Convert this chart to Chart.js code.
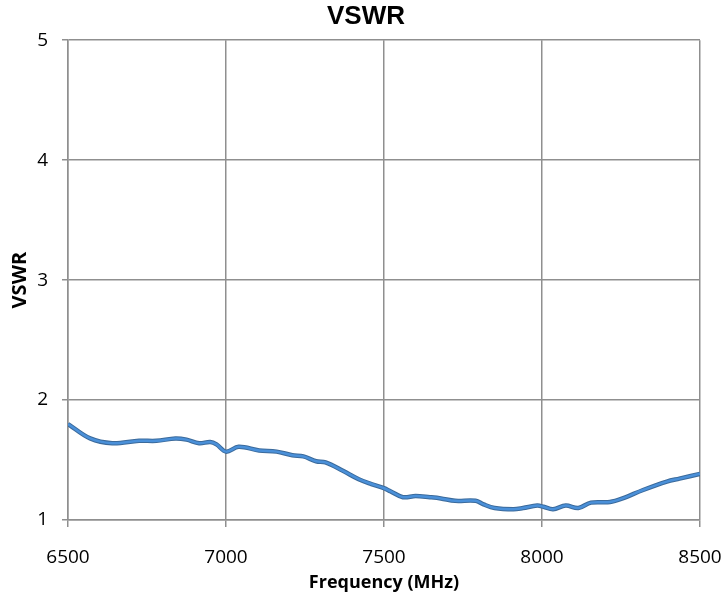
<!DOCTYPE html>
<html>
<head>
<meta charset="utf-8">
<script src="https://cdn.jsdelivr.net/npm/chart.js@4/dist/chart.umd.min.js"></script>
<style>
  html, body { margin: 0; padding: 0; background: #fff; }
  #wrap { width: 724px; height: 596px; }
</style>
</head>
<body>
<div id="wrap"><canvas id="chart" width="724" height="596"></canvas></div>
<script>
const freqMHz = [6500, 6570, 6640, 6725, 6780, 6840, 6875, 6915, 6950, 6970, 7000, 7040, 7105, 7160, 7210, 7245, 7285, 7315, 7370, 7420, 7460, 7500, 7520, 7560, 7600, 7645, 7680, 7725, 7790, 7815, 7850, 7910, 7940, 7985, 8005, 8035, 8075, 8115, 8155, 8215, 8255, 8320, 8395, 8435, 8500];
const vswr = [1.80, 1.68, 1.64, 1.66, 1.66, 1.68, 1.67, 1.64, 1.65, 1.63, 1.57, 1.61, 1.58, 1.57, 1.54, 1.53, 1.49, 1.48, 1.41, 1.34, 1.30, 1.265, 1.24, 1.19, 1.20, 1.19, 1.18, 1.16, 1.16, 1.13, 1.10, 1.09, 1.10, 1.12, 1.11, 1.09, 1.12, 1.10, 1.145, 1.15, 1.18, 1.25, 1.32, 1.345, 1.385];
const xTicks = [6500, 7000, 7500, 8000, 8500];
const yTicks = [1, 2, 3, 4, 5];

const points = freqMHz.map((f, i) => ({ x: f, y: vswr[i] }));
const gridGray = '#8f8f8f';
const tickFont = { family: 'Open Sans', size: 19 };

new Chart(document.getElementById('chart'), {
  type: 'line',
  data: {
    datasets: [
      // index 0 is drawn on top
      {
        data: points,
        borderColor: '#4a90d9',
        borderWidth: 2.5,
        pointRadius: 0,
        tension: 0.35,
        fill: false,
      },
      {
        data: points,
        borderColor: '#3b6a9b',
        borderWidth: 4.5,
        pointRadius: 0,
        tension: 0.35,
        fill: false,
      },
    ],
  },
  options: {
    responsive: false,
    animation: false,
    layout: { padding: { left: 8, right: 0, top: 0, bottom: 0 } },
    plugins: {
      legend: { display: false },
      tooltip: { enabled: false },
      title: {
        display: true,
        text: 'VSWR',
        color: '#000',
        font: { family: 'Liberation Sans', size: 26, weight: 'bold' },
        padding: { top: 1, bottom: 8 },
      },
    },
    scales: {
      x: {
        type: 'linear',
        min: 6500,
        max: 8500,
        afterBuildTicks: (s) => { s.ticks = xTicks.map((v) => ({ value: v })); },
        afterFit: (s) => { s.height = 76; s.paddingLeft = 0; s.paddingRight = 24; },
        ticks: { color: '#000', font: tickFont, padding: 19, maxRotation: 0, callback: (v) => String(v) },
        grid: { color: gridGray, lineWidth: 1.5, tickLength: 7 },
        border: { color: gridGray, width: 1.5 },
        title: {
          display: true,
          text: 'Frequency (MHz)',
          color: '#000',
          font: { family: 'Open Sans', size: 18, weight: 'bold' },
          padding: { top: 0, bottom: 2 },
        },
      },
      y: {
        min: 1,
        max: 5,
        afterBuildTicks: (s) => { s.ticks = yTicks.map((v) => ({ value: v })); },
        afterFit: (s) => { s.width = 60; },
        ticks: { color: '#000', font: tickFont, padding: 14 },
        grid: { color: gridGray, lineWidth: 1.5, tickLength: 6 },
        border: { color: gridGray, width: 1.5 },
        title: {
          display: true,
          text: 'VSWR',
          color: '#000',
          font: { family: 'Open Sans', size: 20, weight: 'bold' },
          padding: { top: 0, bottom: 0 },
        },
      },
    },
  },
});
</script>
</body>
</html>
